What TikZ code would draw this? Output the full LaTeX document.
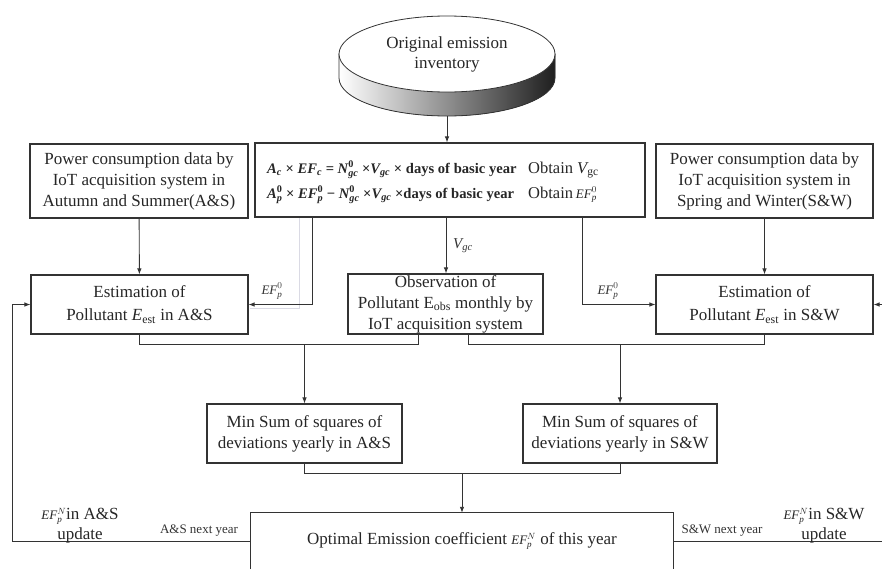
\documentclass[tikz,border=0pt]{standalone}
\usepackage{amsmath}
\usepackage{fontspec}
\setmainfont{Liberation Serif}
\usetikzlibrary{arrows.meta,calc}
\newcommand\ti[1]{\textit{#1}}
\newcommand\smallef[1]{{\fontsize{13}{15}\selectfont$\ti{EF}^{#1}_{\ti{p}}$}}
\begin{document}
\begin{tikzpicture}[x=1pt,y=-1pt,
  box/.style={draw=black!80, line width=1.1pt, align=center,
    font=\fontsize{17}{21}\selectfont, inner sep=0pt, text=black!85},
  conn/.style={draw=black!80, line width=0.9pt},
  arr/.style={conn, -{Latex[length=6pt,width=4.5pt]}},
  lbl/.style={font=\fontsize{13}{15}\selectfont, text=black!80, inner sep=1pt},
  txt/.style={font=\fontsize{17}{20}\selectfont, text=black!85, inner sep=0pt, align=center},
 ]
\useasboundingbox (0,0) rectangle (882,570);

% cylinder
\fill[left color=white, right color=black!88, draw=black!80, line width=0.8pt]
  (339,54) -- (339,78) arc[start angle=180, end angle=0, x radius=108, y radius=38] -- (555,54) -- cycle;
\draw[fill=white, draw=black!80, line width=0.8pt] (447,54) ellipse[x radius=108, y radius=38];
\node[txt] (inv) at (447,54) {Original emission\\inventory};
\coordinate (invb) at (447,116);

% top row
\node[box, minimum width=218pt, minimum height=74pt] (powA) at (139,181)
  {Power consumption data by\\IoT acquisition system in\\Autumn and Summer(A\&S)};
\node[box, minimum width=217pt, minimum height=74pt] (powB) at (764.5,181)
  {Power consumption data by\\IoT acquisition system in\\Spring and Winter(S\&W)};
\node[box, minimum width=390pt, minimum height=74pt] (form) at (450,180) {};
\node[anchor=base west, inner sep=0pt, text=black!85, font=\fontsize{14.6}{16}\selectfont\bfseries] (f1) at (267,173)
  {$\ti{A}_{\ti{c}}$ × $\ti{EF}_{\ti{c}}$ = $\ti{N}^{\text{0}}_{\ti{gc}}$ ×$\ti{V}_{\ti{gc}}$ × days of basic year};
\node[anchor=base west, inner sep=0pt, text=black!85, font=\fontsize{14.6}{16}\selectfont\bfseries] (f2) at (267,198)
  {$\ti{A}^{\text{0}}_{\ti{p}}$ × $\ti{EF}^{\text{0}}_{\ti{p}}$ − $\ti{N}^{\text{0}}_{\ti{gc}}$ ×$\ti{V}_{\ti{gc}}$ ×days of basic year};
\node[anchor=base west, inner sep=0pt, text=black!85, font=\fontsize{16.5}{18}\selectfont] (o1) at (528,173)
  {Obtain $\ti{V}_{\text{gc}}$};
\node[anchor=base west, inner sep=0pt, text=black!85, font=\fontsize{16.5}{18}\selectfont] (o2) at (528,198)
  {Obtain\,\smallef{0}};

% second row
\node[box, minimum width=217pt, minimum height=59pt, font=\fontsize{17}{23}\selectfont] (estA) at (139.5,304.5)
  {Estimation of\\Pollutant $\ti{E}_{\text{est}}$ in A\&S};
\node[box, minimum width=217pt, minimum height=59pt, font=\fontsize{17}{23}\selectfont] (estB) at (764.5,304.5)
  {Estimation of\\Pollutant $\ti{E}_{\text{est}}$ in S\&W};
\node[box, minimum width=195pt, minimum height=60pt] (obs) at (445.5,304)
  {Observation of\\Pollutant E$_{\text{obs}}$ monthly by\\IoT acquisition system};

% third row
\node[box, minimum width=195pt, minimum height=59pt] (minA) at (304.5,433.5)
  {Min Sum of squares of\\deviations yearly in A\&S};
\node[box, minimum width=194pt, minimum height=59pt] (minB) at (620,433.5)
  {Min Sum of squares of\\deviations yearly in S\&W};

% bottom
\node[txt, minimum width=422pt, minimum height=56pt] (opt) at (462,541)
  {Optimal Emission coefficient \smallef{N} of this year};
\draw[draw=black!80, line width=1.1pt] (opt.south west) -- (opt.north west) -- (opt.north east) -- (opt.south east);

% faint artefact line
\draw[draw=blue!15!gray!25, line width=0.8pt] (299,218) -- (299,308) -- (250,308);

% connectors
\draw[arr] (invb) -- (invb |- form.north);
\draw[arr] (powA) -- (estA);
\draw[arr] (powB) -- (estB);
\coordinate (efl) at (312,0);
\coordinate (efr) at (582,0);
\coordinate (vx) at (446,0);
\draw[arr] (form.south -| efl) |- (estA.east);
\draw[arr] (form.south -| efr) |- (estB.west);
\draw[arr] (form.south -| vx) -- (obs.north -| vx);
\node[lbl] (l1) at (272,291) {\smallef{0}};
\node[lbl] (l2) at (608,291) {\smallef{0}};
\node[lbl, font=\fontsize{15}{17}\selectfont] (lv) at (463,246) {$\ti{V}_{\ti{gc}}$};

\coordinate (oL) at (418,0);
\coordinate (oR) at (468,0);
\coordinate (busy) at (0,344);
\draw[conn] (estA.south) |- (busy -| oL) -- (obs.south -| oL);
\draw[conn] (estB.south) |- (busy -| oR) -- (obs.south -| oR);
\draw[arr] (busy -| minA.north) -- (minA.north);
\draw[arr] (busy -| minB.north) -- (minB.north);

\coordinate (bus2) at (0,473);
\draw[conn] (minA.south) |- (bus2 -| minB.south) -- (minB.south);
\draw[arr] (bus2 -| opt.north) -- (opt.north);

\coordinate (fbx) at (12,0);
\coordinate (redge) at (882,0);
\draw[arr] (opt.west) -- (fbx |- opt.west) |- (estA.west);
\draw[conn] (opt.east) -- (redge |- opt.east);
\draw[arr] (redge |- estB.east) -- (estB.east);

\node[lbl] (nA) at (199,531) {A\&S next year};
\node[lbl] (nB) at (722,531) {S\&W next year};
\node[txt] (uA) at (80,526) {\smallef{N}in A\&S\\update};
\node[txt] (uB) at (824,526) {\smallef{N}in S\&W\\update};
\end{tikzpicture}
\end{document}
